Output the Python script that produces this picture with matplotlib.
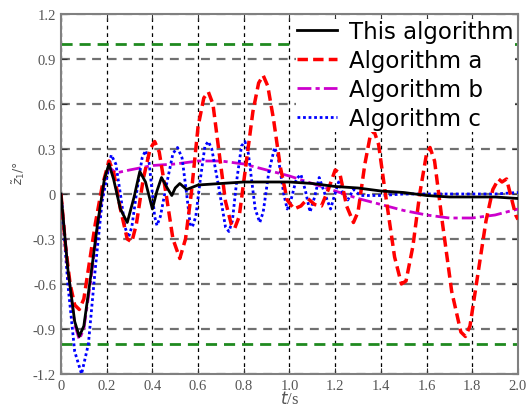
import numpy as np
import matplotlib
matplotlib.use('Agg')
import matplotlib.pyplot as plt

# values
t_black = [0, 0.03, 0.06, 0.08, 0.1, 0.13, 0.16, 0.19, 0.21, 0.23, 0.26, 0.29, 0.32, 0.345,
           0.37, 0.4, 0.42, 0.44, 0.465, 0.485, 0.5, 0.52, 0.55, 0.6, 0.7, 0.8, 0.9, 1.0,
           1.1, 1.2, 1.3, 1.4, 1.5, 1.6, 1.7, 1.8, 1.9, 2.0]
v_black = [0, -0.5, -0.85, -0.95, -0.88, -0.55, -0.2, 0.1, 0.2, 0.1, -0.1, -0.19, -0.02, 0.15,
           0.08, -0.1, 0.02, 0.11, 0.04, -0.01, 0.04, 0.07, 0.03, 0.06, 0.07, 0.08, 0.08, 0.08,
           0.07, 0.05, 0.04, 0.02, 0.01, -0.01, -0.02, -0.02, -0.02, -0.03]

t_red = [0, 0.02, 0.04, 0.06, 0.08, 0.1, 0.12, 0.15, 0.18, 0.21, 0.23, 0.26, 0.29, 0.31, 0.33,
         0.36, 0.39, 0.41, 0.43, 0.46, 0.49, 0.52, 0.545, 0.57, 0.6, 0.625, 0.645, 0.665, 0.69,
         0.72, 0.745, 0.76, 0.78, 0.81, 0.84, 0.865, 0.885, 0.905, 0.93, 0.96, 0.99, 1.02, 1.05,
         1.08, 1.11, 1.14, 1.17, 1.2, 1.22, 1.25, 1.28, 1.3, 1.33, 1.355, 1.37, 1.39, 1.42, 1.46,
         1.49, 1.51, 1.54, 1.57, 1.6, 1.615, 1.635, 1.67, 1.71, 1.75, 1.77, 1.79, 1.82, 1.86,
         1.89, 1.915, 1.93, 1.95, 1.97, 1.99, 2.0]
v_red = [0, -0.35, -0.6, -0.74, -0.77, -0.7, -0.5, -0.2, 0.05, 0.22, 0.15, -0.1, -0.3, -0.32, -0.2,
         0.1, 0.3, 0.35, 0.28, 0.0, -0.3, -0.43, -0.3, 0.0, 0.45, 0.64, 0.68, 0.6, 0.3,
         -0.05, -0.2, -0.23, -0.15, 0.2, 0.55, 0.74, 0.79, 0.72, 0.5, 0.18, -0.04, -0.1, -0.08,
         -0.03, -0.07, -0.08, 0.03, 0.16, 0.14, -0.08, -0.19, -0.12, 0.2, 0.4, 0.42, 0.33, 0.0, -0.42,
         -0.6, -0.58, -0.35, 0.0, 0.27, 0.31, 0.22, -0.2, -0.65, -0.92, -0.95, -0.88, -0.58, -0.18,
         0.03, 0.1, 0.08, 0.1, -0.02, -0.14, -0.17]

t_purple = [0, 0.03, 0.06, 0.08, 0.1, 0.13, 0.16, 0.19, 0.21, 0.24, 0.3, 0.4, 0.5, 0.6, 0.7,
            0.8, 0.9, 1.0, 1.1, 1.2, 1.3, 1.4, 1.5, 1.6, 1.7, 1.8, 1.9, 2.0]
v_purple = [0, -0.5, -0.87, -0.97, -0.9, -0.58, -0.22, 0.08, 0.18, 0.14, 0.16, 0.19, 0.2, 0.22, 0.22,
            0.2, 0.16, 0.12, 0.07, 0.02, -0.03, -0.07, -0.11, -0.14, -0.16, -0.16, -0.14, -0.1]

t_blue = [0, 0.03, 0.06, 0.09, 0.12, 0.15, 0.18, 0.22, 0.24, 0.26, 0.28, 0.295, 0.31, 0.33,
          0.355, 0.37, 0.385, 0.4, 0.41, 0.42, 0.435, 0.46, 0.49, 0.51, 0.53, 0.55, 0.565,
          0.575, 0.59, 0.61, 0.63, 0.645, 0.66, 0.69, 0.72, 0.735, 0.75, 0.77, 0.79, 0.805,
          0.82, 0.85, 0.87, 0.885, 0.91, 0.935, 0.95, 0.975, 0.99, 1.005, 1.03, 1.05, 1.07,
          1.09, 1.11, 1.13, 1.155, 1.18, 1.195, 1.215, 1.235, 1.255, 1.28, 1.31, 1.4, 1.5,
          1.6, 1.7, 1.8, 1.9, 2.0]
v_blue = [0, -0.6, -1.05, -1.2, -1.0, -0.5, -0.05, 0.26, 0.2, 0.0, -0.22, -0.29, -0.22, 0.0,
          0.24, 0.29, 0.22, 0.0, -0.15, -0.21, -0.15, 0.05, 0.27, 0.31, 0.24, 0.0, -0.2,
          -0.22, -0.15, 0.1, 0.32, 0.35, 0.3, 0.05, -0.22, -0.25, -0.18, 0.1, 0.32, 0.35,
          0.27, -0.1, -0.19, -0.12, 0.15, 0.31, 0.25, 0.0, -0.1, -0.05, 0.1, 0.13, 0.02,
          -0.12, -0.02, 0.11, 0.0, -0.1, -0.02, 0.08, 0.0, -0.04, 0.03, -0.01, -0.01, 0.0,
          0.0, 0.0, 0.0, 0.0, 0.01]

limit = 1.0
labels = ['This algorithm', 'Algorithm a', 'Algorithm b', 'Algorithm c']
x_ticks = [0, 0.2, 0.4, 0.6, 0.8, 1.0, 1.2, 1.4, 1.6, 1.8, 2.0]
x_ticklabels = ['0', '0.2', '0.4', '0.6', '0.8', '1.0', '1.2', '1.4', '1.6', '1.8', '2.0']
y_ticks = [-1.2, -0.9, -0.6, -0.3, 0, 0.3, 0.6, 0.9, 1.2]
y_ticklabels = ['-1.2', '-0.9', '-0.6', '-0.3', '0', '0.3', '0.6', '0.9', '1.2']

fig = plt.figure(figsize=(5.28, 4.10), dpi=100)
ax = fig.add_axes([0.1155, 0.0854, 0.8655, 0.878])

ax.axhline(limit, color='#1f8a1f', lw=2, ls=(0, (4, 2.5)), zorder=2)
ax.axhline(-limit, color='#1f8a1f', lw=2, ls=(0, (4, 2.5)), zorder=2)

ax.plot(t_black, v_black, color='black', lw=2, label=labels[0], zorder=5)
ax.plot(t_red, v_red, color='#ff0000', lw=2.5, ls=(0, (3, 1.5)), label=labels[1], zorder=4)
ax.plot(t_purple, v_purple, color='#cc00cc', lw=2, ls=(0, (5, 1.5, 1.5, 1.5)), label=labels[2], zorder=3)
ax.plot(t_blue, v_blue, color='#0000ff', lw=2, ls=(0, (1, 1)), label=labels[3], zorder=3)

ax.set_xlim(0, 2.0)
ax.set_ylim(-1.2, 1.2)
ax.set_xticks(x_ticks)
ax.set_xticklabels(x_ticklabels)
ax.set_yticks(y_ticks)
ax.set_yticklabels(y_ticklabels)

ax.xaxis.grid(True, color='black', ls=(0, (3, 3)), lw=0.9)
ax.yaxis.grid(True, color='#707070', ls=(0, (4, 3)), lw=1.6)
ax.set_axisbelow(True)

for sp in ax.spines.values():
    sp.set_color('#808080')
    sp.set_linewidth(1.5)
ax.tick_params(direction='in', top=True, right=True, length=4, color='#333333',
               labelcolor='#555555', labelsize=10.5)
for lbl in ax.get_xticklabels() + ax.get_yticklabels():
    lbl.set_family('Liberation Serif')

ax.set_xlabel('$t$/s', color='#555555', fontsize=12, labelpad=-1, family='Liberation Serif')
ax.set_ylabel(r'$\tilde{z}_1$/°', color='#555555', fontsize=9, labelpad=8)
ax.yaxis.set_label_coords(-0.075, 0.56)

leg = ax.legend(loc='upper right', bbox_to_anchor=(0.995, 0.99), borderaxespad=0.05,
                fontsize=16.5, handlelength=1.75, handletextpad=0.5, labelspacing=0.27,
                borderpad=0.05, frameon=True, fancybox=False, framealpha=1)
leg.get_frame().set_edgecolor('none')
leg.set_zorder(10)

fig.savefig('out.png', dpi=100)
